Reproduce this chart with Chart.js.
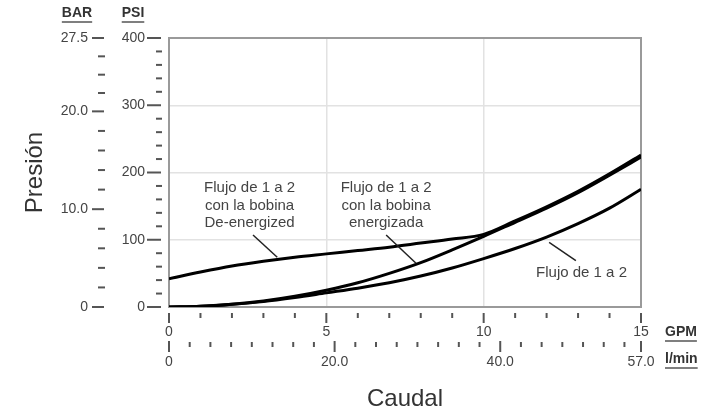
<!DOCTYPE html>
<html>
<head>
<meta charset="utf-8">
<script src="https://cdn.jsdelivr.net/npm/chart.js@4/dist/chart.umd.min.js"></script>
<style>
  html, body { margin: 0; padding: 0; background: #fff; }
  canvas { display: block; }
</style>
</head>
<body>
<canvas id="pressureChart" width="724" height="419"></canvas>
<script>
// flow (GPM) and pressure (PSI)
const flowGpm     = [0, 1, 2, 3, 4, 5, 6, 7, 8, 9, 10, 11, 12, 13, 14, 15];
const deEnergized = [42, 52, 61, 68, 74, 79, 84, 89, 95, 101, 108, 128, 149, 172, 198, 226];
const energized   = [0, 1, 4, 9, 16, 25, 36, 50, 66, 85, 105, 126, 147, 170, 196, 223];
const flow1to2    = [0, 1, 4, 8, 14, 21, 28, 36, 46, 58, 72, 87, 104, 124, 147, 175];

// tick labels
const gpmLabels   = [0, 5, 10, 15];
const litreValues = [0, 20, 40, 57];
const litreLabels = ['0', '20.0', '40.0', '57.0'];
const psiLabels   = [0, 100, 200, 300, 400];
const barValues   = [0, 10, 20, 27.5];
const barLabels   = ['0', '10.0', '20.0', '27.5'];

const FONT = "'Liberation Sans', Arial, sans-serif";
const TEXT = '#444';

const notes = [
  { lines: ['Flujo de 1 a 2', 'con la bobina', 'De-energized'], at: [2.56, 177], leader: [[2.67, 107], [3.44, 74]] },
  { lines: ['Flujo de 1 a 2', 'con la bobina', 'energizada'], at: [6.9, 177], leader: [[6.9, 107], [7.85, 65]] },
  { lines: ['Flujo de 1 a 2'], at: [13.11, 51], leader: [[12.08, 96], [12.93, 69]] }
];

// tick mark geometry per scale (px from the axis edge)
const marks = {
  x:  { major: [6, 16], minor: [6, 11] },
  xl: { major: [1, 12], minor: [2, 7] },
  y:  { major: [22, 8], minor: [13, 7] },
  yb: { major: [14, 2], minor: [8, 1] }
};

function line(data) {
  return {
    data: flowGpm.map((x, i) => ({ x: x, y: data[i] })),
    borderColor: '#000',
    borderWidth: 3,
    pointRadius: 0,
    fill: false,
    cubicInterpolationMode: 'monotone',
    xAxisID: 'x',
    yAxisID: 'y'
  };
}

function range(from, to, step) {
  const out = [];
  for (let v = from; v <= to + 1e-9; v += step) out.push({ value: Math.round(v * 1000) / 1000 });
  return out;
}

const decorations = {
  id: 'decorations',
  beforeDatasetsDraw(chart) {
    const { ctx, chartArea: a } = chart;
    ctx.save();
    ctx.strokeStyle = '#9a9a9a';
    ctx.lineWidth = 2;
    ctx.strokeRect(a.left, a.top, a.right - a.left, a.bottom - a.top);
    ctx.restore();
  },
  afterDraw(chart) {
    const { ctx, scales } = chart;
    ctx.save();
    ctx.strokeStyle = '#555';
    ctx.lineWidth = 2;
    Object.keys(marks).forEach(id => {
      const s = scales[id];
      const m = marks[id];
      s.ticks.forEach(t => {
        const p = s.getPixelForValue(t.value);
        const big = t.label !== '' && t.label !== undefined;
        const seg = big ? m.major : m.minor;
        ctx.beginPath();
        if (s.isHorizontal()) {
          ctx.moveTo(p, s.top + seg[0]);
          ctx.lineTo(p, s.top + seg[1]);
        } else {
          ctx.moveTo(s.right - seg[0], p);
          ctx.lineTo(s.right - seg[1], p);
        }
        ctx.stroke();
      });
    });

    // unit labels, underlined
    function unit(text, x, y, align) {
      ctx.font = 'bold 14px ' + FONT;
      ctx.fillStyle = '#333';
      ctx.textAlign = align;
      ctx.textBaseline = 'middle';
      ctx.fillText(text, x, y);
      const w = ctx.measureText(text).width;
      const x0 = align === 'center' ? x - w / 2 : x;
      ctx.strokeStyle = '#555';
      ctx.lineWidth = 1.5;
      ctx.beginPath();
      ctx.moveTo(x0, y + 9);
      ctx.lineTo(x0 + w, y + 9);
      ctx.stroke();
    }
    const top = chart.chartArea.top;
    unit('BAR', scales.yb.right - 29, top - 25, 'center');
    unit('PSI', scales.y.right - 36, top - 25, 'center');
    unit('GPM', scales.x.right + 24, scales.x.top + 25, 'left');
    unit('l/min', scales.x.right + 24, scales.xl.top + 19, 'left');

    // curve annotations
    const xs = scales.x, ys = scales.y;
    notes.forEach(n => {
      ctx.font = '15px ' + FONT;
      ctx.fillStyle = TEXT;
      ctx.textAlign = 'center';
      ctx.textBaseline = 'middle';
      const cx = xs.getPixelForValue(n.at[0]);
      const cy = ys.getPixelForValue(n.at[1]);
      n.lines.forEach((l, i) => ctx.fillText(l, cx, cy + i * 17.5));
      ctx.strokeStyle = '#222';
      ctx.lineWidth = 1.5;
      ctx.beginPath();
      ctx.moveTo(xs.getPixelForValue(n.leader[0][0]), ys.getPixelForValue(n.leader[0][1]));
      ctx.lineTo(xs.getPixelForValue(n.leader[1][0]), ys.getPixelForValue(n.leader[1][1]));
      ctx.stroke();
    });
    ctx.restore();
  }
};

const tickFont = { family: FONT, size: 14 };

new Chart(document.getElementById('pressureChart'), {
  type: 'line',
  data: {
    datasets: [line(deEnergized), line(energized), line(flow1to2)]
  },
  options: {
    responsive: false,
    animation: false,
    layout: { padding: { top: 38, right: 83, left: 0, bottom: 0 } },
    plugins: {
      legend: { display: false },
      tooltip: { enabled: false }
    },
    scales: {
      x: {
        type: 'linear',
        position: 'bottom',
        min: 0,
        max: 15,
        afterBuildTicks: s => { s.ticks = range(0, 15, 1); },
        afterFit: s => { s.height = 33; },
        ticks: {
          autoSkip: false, maxRotation: 0, padding: 17, color: TEXT, font: tickFont,
          callback: v => gpmLabels.includes(v) ? String(v) : ''
        },
        grid: {
          drawTicks: false,
          lineWidth: 1.5,
          color: c => (c.tick && (c.tick.value === 5 || c.tick.value === 10)) ? '#e2e2e2' : 'rgba(0,0,0,0)'
        },
        border: { display: false }
      },
      xl: {
        type: 'linear',
        position: 'bottom',
        min: 0,
        max: 57,
        afterBuildTicks: s => { s.ticks = range(0, 55, 2.5).concat([{ value: 57 }]); },
        afterFit: s => { s.height = 79; },
        ticks: {
          autoSkip: false, maxRotation: 0, padding: 14, color: TEXT, font: tickFont,
          callback: v => { const i = litreValues.indexOf(v); return i >= 0 ? litreLabels[i] : ''; }
        },
        grid: { display: false, drawTicks: false },
        border: { display: false },
        title: {
          display: true, text: 'Caudal', color: '#333',
          font: { family: FONT, size: 24 }, padding: { top: 0, bottom: 5 }
        }
      },
      y: {
        type: 'linear',
        position: 'left',
        min: 0,
        max: 400,
        afterBuildTicks: s => { s.ticks = range(0, 400, 20); },
        afterFit: s => { s.width = 63; },
        ticks: {
          autoSkip: false, padding: 24, color: TEXT, font: tickFont,
          callback: v => psiLabels.includes(v) ? String(v) : ''
        },
        grid: {
          drawTicks: false,
          lineWidth: 1.5,
          color: c => (c.tick && [100, 200, 300].includes(c.tick.value)) ? '#e2e2e2' : 'rgba(0,0,0,0)'
        },
        border: { display: false }
      },
      yb: {
        type: 'linear',
        position: 'left',
        min: 0,
        max: 27.5,
        afterBuildTicks: s => {
          s.ticks = range(0, 20, 2).concat([{ value: 21.875 }, { value: 23.75 }, { value: 25.625 }, { value: 27.5 }]);
        },
        afterFit: s => { s.width = 106; },
        ticks: {
          autoSkip: false, padding: 18, color: TEXT, font: tickFont,
          callback: v => { const i = barValues.indexOf(v); return i >= 0 ? barLabels[i] : ''; }
        },
        grid: { display: false, drawTicks: false },
        border: { display: false },
        title: {
          display: true, text: 'Presión', color: '#333',
          font: { family: FONT, size: 24 }, padding: { top: 21, bottom: 0 }
        }
      }
    }
  },
  plugins: [decorations]
});
</script>
</body>
</html>
